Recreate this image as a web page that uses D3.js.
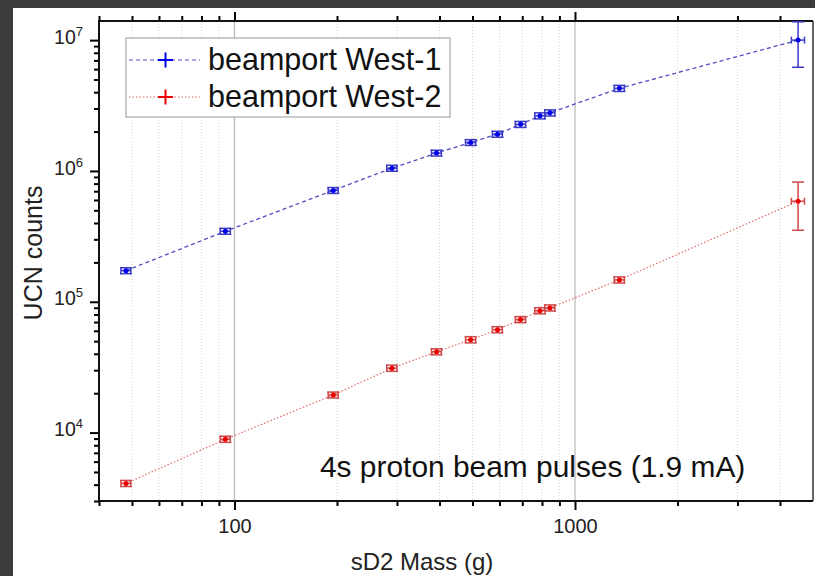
<!DOCTYPE html>
<html>
<head>
<meta charset="utf-8">
<script src="https://cdn.jsdelivr.net/npm/d3@7"></script>
<style>
    html, body { margin: 0; padding: 0; background: #3c3c3c; }
    svg { display: block; font-family: "Liberation Sans", Arial, sans-serif; }
</style>
</head>
<body>
<div id="visualizer"></div>
<script>
// data
const massG = [48, 94, 195, 290, 392, 494, 592, 692, 789, 844, 1350, 4520];
const massErr = [1.6, 3.2, 6.6, 10, 13, 17, 20, 24, 27, 29, 46, 200];
const west1Counts = [1.73e5, 3.46e5, 7.1e5, 1.05e6, 1.37e6, 1.65e6, 1.91e6, 2.27e6, 2.64e6, 2.78e6, 4.28e6, 1.0e7];
const west1Err = [9e3, 1.8e4, 3.7e4, 5.5e4, 7e4, 8.5e4, 1e5, 1.2e5, 1.4e5, 1.5e5, 2.3e5, 3.8e6];
const west2Counts = [4.09e3, 8.9e3, 1.94e4, 3.11e4, 4.15e4, 5.13e4, 6.12e4, 7.31e4, 8.55e4, 8.98e4, 1.47e5, 5.87e5];
const west2Err = [2.2e2, 4.8e2, 1.0e3, 1.7e3, 2.2e3, 2.8e3, 3.3e3, 3.9e3, 4.6e3, 4.8e3, 7.9e3, 2.35e5];
const seriesNames = ["beamport West-1", "beamport West-2"];
const xMajorTicks = [100, 1000];
const xMinorTicks = [40, 50, 60, 70, 80, 90, 200, 300, 400, 500, 600, 700, 800, 900, 2000, 3000, 4000];
const yMajorTicks = [1e4, 1e5, 1e6, 1e7];
const yMinorTicks = [3e3, 4e3, 5e3, 6e3, 7e3, 8e3, 9e3, 2e4, 3e4, 4e4, 5e4, 6e4, 7e4, 8e4, 9e4,
    2e5, 3e5, 4e5, 5e5, 6e5, 7e5, 8e5, 9e5, 2e6, 3e6, 4e6, 5e6, 6e6, 7e6, 8e6, 9e6];
const annotation = "4s proton beam pulses (1.9 mA)";

const width = 815, height = 576;
const margin = { top: 21, right: 2, bottom: 75, left: 99 };
const plotW = width - margin.left - margin.right;
const plotH = height - margin.top - margin.bottom;

const svg = d3.select("#visualizer")
    .append("svg")
    .attr("width", width)
    .attr("height", height);

// white page area
svg.append("rect")
    .attr("x", 13).attr("y", 8)
    .attr("width", width - 13).attr("height", height - 8)
    .attr("fill", "#fff");

const x = d3.scaleLog().domain([40, 5000]).range([0, plotW]);
const y = d3.scaleLog().domain([3000, 1.4e7]).range([plotH, 0]);

const g = svg.append("g").attr("transform", `translate(${margin.left}, ${margin.top})`);

// vertical grid
g.selectAll(".minor-grid")
    .data(xMinorTicks.filter(d => d > 40))
    .join("line")
    .attr("x1", d => x(d)).attr("x2", d => x(d))
    .attr("y1", 0).attr("y2", plotH)
    .attr("stroke", "#d8d8d8")
    .attr("stroke-dasharray", "1,2");
g.selectAll(".major-grid")
    .data(xMajorTicks)
    .join("line")
    .attr("x1", d => x(d)).attr("x2", d => x(d))
    .attr("y1", 0).attr("y2", plotH)
    .attr("stroke", "#bdbdbd")
    .attr("stroke-width", 1.3);

// axes
function styleAxis(sel) {
    sel.select(".domain").remove();
    sel.selectAll("line").attr("stroke", "#000").attr("stroke-width", 2);
}

g.append("g")
    .attr("transform", `translate(0, ${plotH})`)
    .call(d3.axisBottom(x).tickValues(xMajorTicks).tickSize(9).tickPadding(9).tickFormat(d3.format("d")))
    .call(styleAxis)
    .call(s => s.selectAll("text").attr("font-size", 20).attr("fill", "#222").attr("font-family", "Liberation Sans, Arial, sans-serif"));
g.append("g")
    .attr("transform", `translate(0, ${plotH})`)
    .call(d3.axisBottom(x).tickValues(xMinorTicks).tickSize(5).tickFormat(""))
    .call(styleAxis);
g.append("g")
    .call(d3.axisTop(x).tickValues(xMajorTicks).tickSize(9).tickFormat(""))
    .call(styleAxis);
g.append("g")
    .call(d3.axisTop(x).tickValues(xMinorTicks).tickSize(5).tickFormat(""))
    .call(styleAxis);

const yAxisG = g.append("g")
    .call(d3.axisLeft(y).tickValues(yMajorTicks).tickSize(9).tickPadding(7))
    .call(styleAxis);
yAxisG.selectAll("text")
    .text(null)
    .attr("font-family", "Liberation Sans, Arial, sans-serif")
    .attr("fill", "#222")
    .each(function(d) {
        const t = d3.select(this);
        t.append("tspan").attr("font-size", 19.5).text("10");
        t.append("tspan").attr("font-size", 13).attr("dy", -8).text(Math.round(Math.log10(d)));
    });
g.append("g")
    .call(d3.axisLeft(y).tickValues(yMinorTicks).tickSize(5).tickFormat(""))
    .call(styleAxis);

// frame
g.append("line").attr("x1", 0).attr("x2", plotW).attr("y1", 0).attr("y2", 0).attr("stroke", "#111").attr("stroke-width", 2);
g.append("line").attr("x1", 0).attr("x2", plotW).attr("y1", plotH).attr("y2", plotH).attr("stroke", "#111").attr("stroke-width", 2);
g.append("line").attr("x1", 0).attr("x2", 0).attr("y1", -1).attr("y2", plotH + 1).attr("stroke", "#111").attr("stroke-width", 2);
g.append("line").attr("x1", plotW).attr("x2", plotW).attr("y1", 0).attr("y2", plotH).attr("stroke", "#333").attr("stroke-width", 1.5);

// series
const series = [
    { name: seriesNames[0], counts: west1Counts, err: west1Err, color: "#0000ee", lineColor: "#4f4fc0", barColor: "#3b3bc8", dash: "4,3", lw: 1.3 },
    { name: seriesNames[1], counts: west2Counts, err: west2Err, color: "#ee0000", lineColor: "#e06a6a", barColor: "#d04848", dash: "1.5,2", lw: 1.2 }
];

const line = d3.line().x(d => x(d.m)).y(d => y(d.c));

series.forEach(s => {
    const pts = massG.map((m, i) => ({ m, me: massErr[i], c: s.counts[i], ce: s.err[i] }));
    g.append("path")
        .datum(pts)
        .attr("d", line)
        .attr("fill", "none")
        .attr("stroke", s.lineColor)
        .attr("stroke-width", s.lw)
        .attr("stroke-dasharray", s.dash);

    const pg = g.append("g").selectAll("g").data(pts).join("g")
        .attr("stroke", s.barColor)
        .attr("stroke-width", 1.5);
    // y error bar + caps
    pg.append("line")
        .attr("x1", d => x(d.m)).attr("x2", d => x(d.m))
        .attr("y1", d => y(d.c + d.ce)).attr("y2", d => y(d.c - d.ce));
    pg.append("line")
        .attr("x1", d => x(d.m) - 6).attr("x2", d => x(d.m) + 6)
        .attr("y1", d => y(d.c + d.ce)).attr("y2", d => y(d.c + d.ce));
    pg.append("line")
        .attr("x1", d => x(d.m) - 6).attr("x2", d => x(d.m) + 6)
        .attr("y1", d => y(d.c - d.ce)).attr("y2", d => y(d.c - d.ce));
    // x error bar + caps
    pg.append("line")
        .attr("x1", d => x(d.m - d.me)).attr("x2", d => x(d.m + d.me))
        .attr("y1", d => y(d.c)).attr("y2", d => y(d.c));
    pg.append("line")
        .attr("x1", d => x(d.m - d.me)).attr("x2", d => x(d.m - d.me))
        .attr("y1", d => y(d.c) - 3.5).attr("y2", d => y(d.c) + 3.5);
    pg.append("line")
        .attr("x1", d => x(d.m + d.me)).attr("x2", d => x(d.m + d.me))
        .attr("y1", d => y(d.c) - 3.5).attr("y2", d => y(d.c) + 3.5);
    pg.append("circle")
        .attr("cx", d => x(d.m)).attr("cy", d => y(d.c))
        .attr("r", 2.5)
        .attr("stroke", "none")
        .attr("fill", s.color);
});

// legend
const legend = svg.append("g").attr("transform", "translate(126, 38)");
legend.append("rect")
    .attr("width", 324).attr("height", 79)
    .attr("fill", "#fff")
    .attr("stroke", "#a8a8a8")
    .attr("stroke-width", 1.2);
series.forEach((s, i) => {
    const row = legend.append("g").attr("transform", `translate(0, ${22 + i * 37})`);
    row.append("line")
        .attr("x1", 3).attr("x2", 74)
        .attr("stroke", s.lineColor)
        .attr("stroke-width", 1)
        .attr("stroke-dasharray", s.dash);
    row.append("line").attr("x1", 32).attr("x2", 47).attr("stroke", s.color).attr("stroke-width", 2);
    row.append("line").attr("x1", 39.5).attr("x2", 39.5).attr("y1", -7.5).attr("y2", 7.5).attr("stroke", s.color).attr("stroke-width", 2);
    row.append("text")
        .attr("x", 82).attr("y", 10)
        .attr("font-size", 30.5)
        .attr("fill", "#111")
        .text(s.name);
});

// annotation
svg.append("text")
    .attr("x", 320).attr("y", 477)
    .attr("font-size", 29.9)
    .attr("fill", "#111")
    .text(annotation);

// axis titles
svg.append("text")
    .attr("x", 422).attr("y", 570)
    .attr("text-anchor", "middle")
    .attr("font-size", 24)
    .attr("fill", "#222")
    .text("sD2 Mass (g)");
svg.append("text")
    .attr("transform", "translate(42, 253) rotate(-90)")
    .attr("text-anchor", "middle")
    .attr("font-size", 25)
    .attr("fill", "#222")
    .text("UCN counts");
</script>
</body>
</html>
